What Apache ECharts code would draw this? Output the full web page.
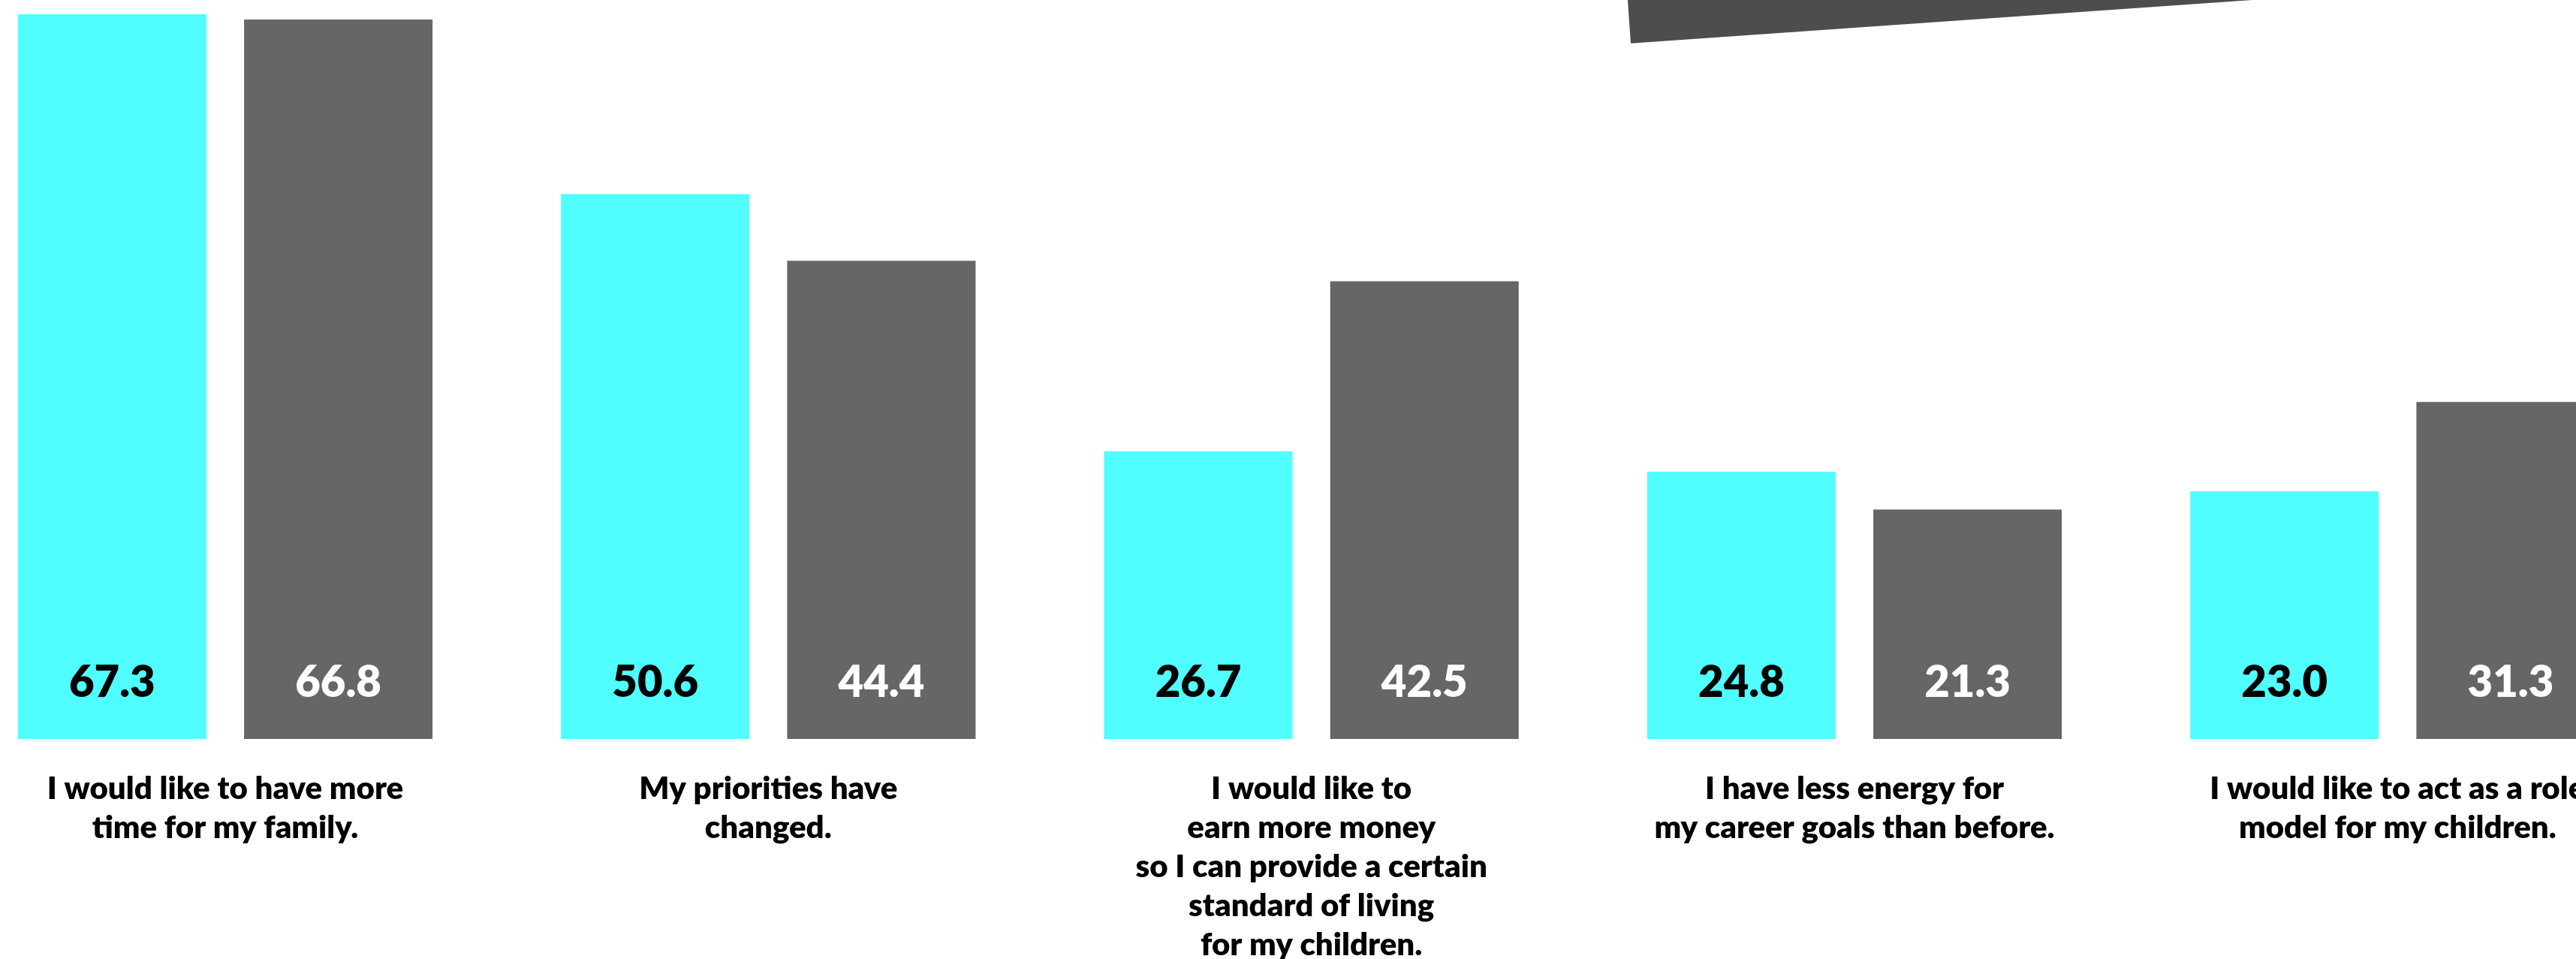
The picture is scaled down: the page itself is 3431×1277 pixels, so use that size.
<!DOCTYPE html>
<html>
<head>
<meta charset="utf-8">
<script src="https://cdn.jsdelivr.net/npm/echarts@6/dist/echarts.min.js"></script>
<style>
  html, body { margin: 0; padding: 0; background: #ffffff; }
  #chart { width: 3431px; height: 1277px; }
</style>
</head>
<body>
<div id="chart"></div>
<script>
// Survey statements (x-axis categories)
const categories = [
  'I would like to have more\ntime for my family.',
  'My priorities have\nchanged.',
  'I would like to\nearn more money\nso I can provide a certain\nstandard of living\nfor my children.',
  'I have less energy for\nmy career goals than before.',
  'I would like to act as a role\nmodel for my children.'
];

// Share of respondents (%) for the two groups
const groupA = [67.3, 50.6, 26.7, 24.8, 23.0];
const groupB = [66.8, 44.4, 42.5, 21.3, 31.3];

const FONT = 'Lato, "Noto Sans", sans-serif';

const chart = echarts.init(document.getElementById('chart'), null, { renderer: 'canvas' });

function barLabel(color) {
  return {
    show: true,
    position: 'insideBottom',
    distance: 46,
    color: color,
    fontFamily: FONT,
    fontWeight: 800,
    fontSize: 58,
    formatter: p => p.value.toFixed(1)
  };
}

chart.setOption({
  backgroundColor: '#ffffff',
  animation: false,
  grid: {
    left: -61.7,
    width: 3616.7,
    top: -19.8,
    bottom: 293,
    containLabel: false,
    outerBoundsMode: 'none'
  },
  xAxis: {
    type: 'category',
    data: categories,
    axisLine: { show: false },
    axisTick: { show: false },
    axisLabel: {
      interval: 0,
      margin: 40,
      color: '#000000',
      fontFamily: FONT,
      fontWeight: 800,
      fontSize: 42,
      lineHeight: 52,
      align: 'center'
    }
  },
  yAxis: {
    type: 'value',
    min: 0,
    max: 70,
    show: false,
    splitLine: { show: false }
  },
  series: [
    {
      name: 'A',
      type: 'bar',
      data: groupA,
      barWidth: 251,
      barGap: '20%',
      itemStyle: { color: '#50fdff' },
      label: barLabel('#000000')
    },
    {
      name: 'B',
      type: 'bar',
      data: groupB,
      barWidth: 251,
      itemStyle: { color: '#666666' },
      label: barLabel('#ffffff')
    }
  ],
  graphic: [
    {
      // tilted dark banner at the top edge
      type: 'rect',
      x: 2172,
      y: 57.7,
      rotation: 0.0696,
      shape: { x: 0, y: -400, width: 1800, height: 400 },
      style: { fill: '#4d4d4d' },
      z: 10
    }
  ]
});
</script>
</body>
</html>
